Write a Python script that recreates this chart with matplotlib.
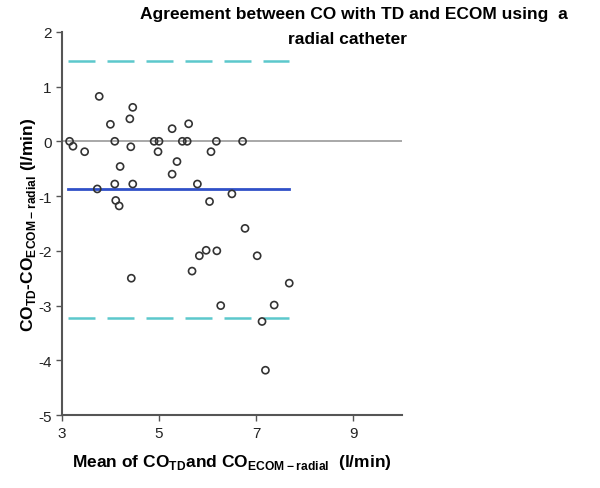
import matplotlib.pyplot as plt

plt.rcParams['font.family'] = ['Liberation Sans', 'DejaVu Sans']
plt.rcParams['axes.unicode_minus'] = False

# mean of the two methods (l/min)
mean_co = [3.16, 3.23, 3.47, 3.77, 3.73, 4.00, 4.09, 4.09, 4.11, 4.18, 4.20,
           4.40, 4.42, 4.43, 4.46, 4.46, 4.90, 4.98, 5.00, 5.27, 5.27, 5.37,
           5.48, 5.58, 5.61, 5.68, 5.79, 5.83, 5.97, 6.04, 6.07, 6.18, 6.19,
           6.27, 6.50, 6.72, 6.77, 7.02, 7.12, 7.19, 7.37, 7.68]
# difference CO_TD - CO_ECOM-radial (l/min)
diff_co = [0.00, -0.09, -0.19, 0.82, -0.87, 0.31, 0.00, -0.78, -1.08, -1.18, -0.46,
           0.41, -0.10, -2.50, 0.62, -0.78, 0.00, -0.19, 0.00, 0.23, -0.60, -0.37,
           0.00, 0.00, 0.32, -2.37, -0.78, -2.09, -1.99, -1.10, -0.19, 0.00, -2.00,
           -3.00, -0.96, 0.00, -1.59, -2.09, -3.29, -4.18, -2.99, -2.59]

bias = -0.875
upper_loa = 1.47
lower_loa = -3.22
line_x = [3.12, 7.68]

fig = plt.figure(figsize=(6, 4.89), dpi=100)
ax = fig.add_axes([0.103, 0.149, 0.567, 0.784])

ax.plot([3, 10], [0, 0], color='#9a9a9a', lw=1.2, zorder=1)
ax.plot(line_x, [bias, bias], color='#3050c8', lw=2, zorder=2)
ax.plot(line_x, [upper_loa, upper_loa], color='#5cc8cc', lw=1.8,
        dashes=(10.8, 4.8), zorder=2)
ax.plot(line_x, [lower_loa, lower_loa], color='#5cc8cc', lw=1.8,
        dashes=(10.8, 4.8), zorder=2)
ax.scatter(mean_co, diff_co, s=26, facecolors='none', edgecolors='#333333',
           linewidths=1.2, zorder=3)

ax.set_xlim(3, 10)
ax.set_ylim(-5, 2)
ax.set_xticks([3, 5, 7, 9])
ax.set_yticks([-5, -4, -3, -2, -1, 0, 1, 2])
ax.spines['top'].set_visible(False)
ax.spines['right'].set_visible(False)
for s in ['left', 'bottom']:
    ax.spines[s].set_color('#555555')
    ax.spines[s].set_linewidth(1.5)
ax.tick_params(direction='out', length=4, width=1, color='#555555',
               labelsize=11, labelcolor='#222222')

ax.set_xlabel('Mean of CO$_{\\mathregular{TD}}$and CO$_{\\mathregular{ECOM-radial}}$  (l/min)',
              fontsize=12.5, fontweight='bold', labelpad=9)
ax.set_ylabel('CO$_{\\mathregular{TD}}$-CO$_{\\mathregular{ECOM-radial}}$ (l/min)',
              fontsize=12.5, fontweight='bold', labelpad=0)

fig.text(0.59, 1 - 15 / 489, 'Agreement between CO with TD and ECOM using  a',
         ha='center', va='center', fontsize=12.5, fontweight='bold')
fig.text(0.58, 1 - 39 / 489, 'radial catheter',
         ha='center', va='center', fontsize=12.5, fontweight='bold')

fig.savefig('out.png', dpi=100)
